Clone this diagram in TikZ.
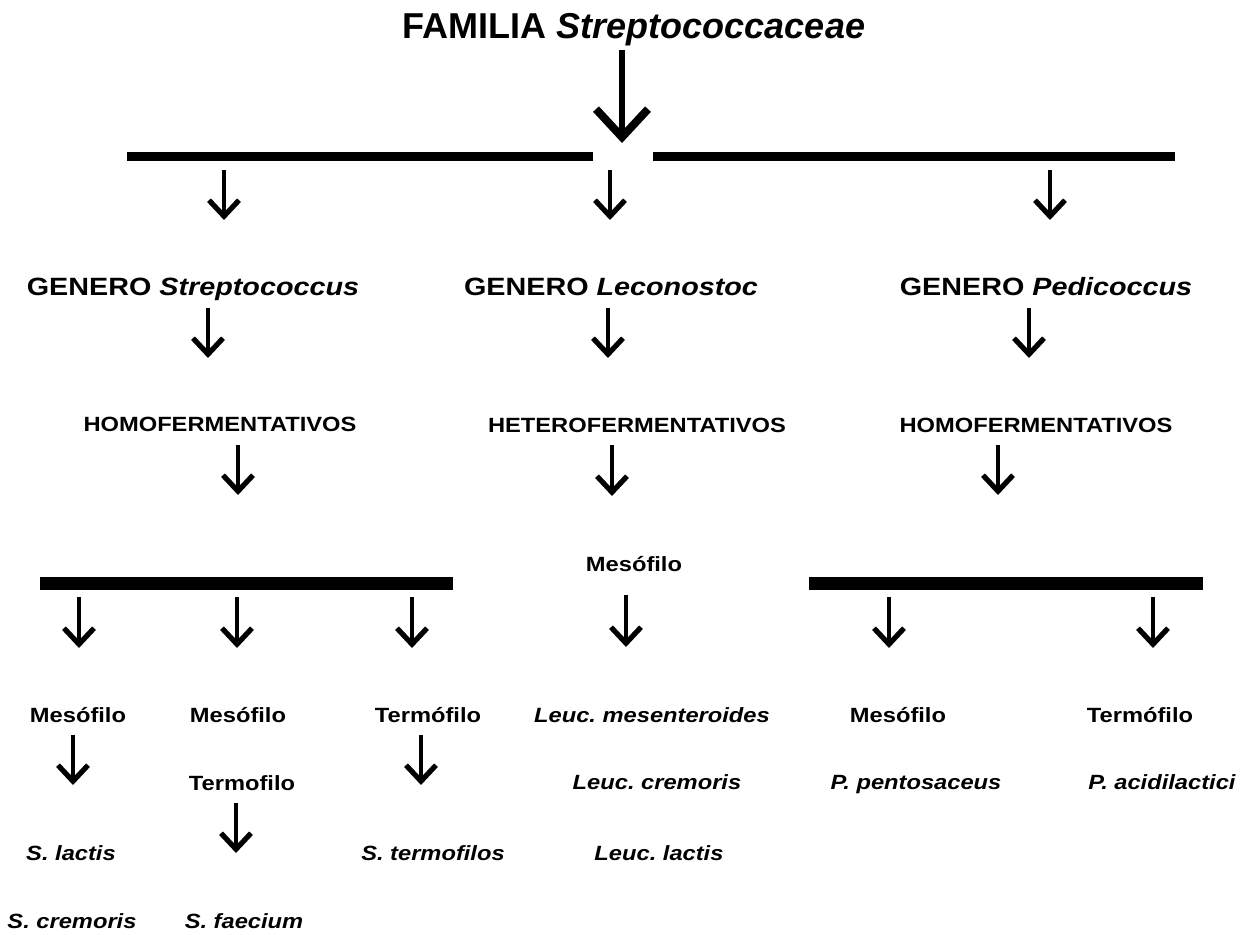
\documentclass[tikz,border=0pt]{standalone}
\usepackage{fontspec}
\setmainfont{Liberation Sans}
\newfontfamily\wf[FakeStretch=1.15]{Liberation Sans}
\usetikzlibrary{arrows.meta}
\frenchspacing
\begin{document}
\begin{tikzpicture}[x=0.5pt,y=-0.5pt,
  arr/.style={line width=1.7pt,-{Straight Barb[length=8pt,width=15pt,line width=2.6pt]}},
  bigarr/.style={line width=2.6pt,-{Straight Barb[length=14pt,width=26pt,line width=4pt]}},
  tbar/.style={line width=4.5pt},
  lbar/.style={line width=6.5pt},
  ttl/.style={anchor=base,inner sep=0pt,font=\fontsize{18}{21}\selectfont\bfseries},
  gen/.style={anchor=base,inner sep=0pt,font=\wf\fontsize{12.5}{15}\selectfont\bfseries},
  lab/.style={anchor=base,inner sep=0pt,font=\wf\fontsize{10.3}{12}\selectfont\bfseries},
  sp/.style={anchor=base,inner sep=0pt,font=\wf\fontsize{10.3}{12}\selectfont\bfseries\itshape}]
\fill[white] (0,0) rectangle (1248,935);
\useasboundingbox (0,0) rectangle (1248,935);

% texts
\node[ttl] (fam) at (634,39) {FAMILIA \textit{Streptococcaceae}};
\node[gen] (gs) at (193,296) {GENERO \textit{Streptococcus}};
\node[gen] (gl) at (611,296) {GENERO \textit{Leconostoc}};
\node[gen] (gp) at (1046,296) {GENERO \textit{Pedicoccus}};
\node[lab] (hoL) at (220,432) {HOMOFERMENTATIVOS};
\node[lab] (he) at (637,433) {HETEROFERMENTATIVOS};
\node[lab] (hoR) at (1036,433) {HOMOFERMENTATIVOS};
\node[lab] (mesC) at (634,571) {Mesófilo};
\node[lab] (m1) at (78,722) {Mesófilo};
\node[lab] (m2) at (238,722) {Mesófilo};
\node[lab] (t1) at (428,722) {Termófilo};
\node[sp] (lm) at (652,722) {Leuc. mesenteroides};
\node[lab] (m3) at (898,722) {Mesófilo};
\node[lab] (t3) at (1140,722) {Termófilo};
\node[lab] (t2) at (242,790) {Termofilo};
\node[sp] (lc) at (657,789) {Leuc. cremoris};
\node[sp] (pp) at (916,789) {P. pentosaceus};
\node[sp] (pa) at (1162,789) {P. acidilactici};
\node[sp] (sl) at (71,860) {S. lactis};
\node[sp] (st) at (433,860) {S. termofilos};
\node[sp] (ll) at (659,860) {Leuc. lactis};
\node[sp] (sc) at (72,928) {S. cremoris};
\node[sp] (sf) at (244,928) {S. faecium};

% bars
\coordinate (tb1a) at (127,157); \coordinate (tb1b) at (593,157);
\coordinate (tb2a) at (653,157); \coordinate (tb2b) at (1175,157);
\coordinate (lb1a) at (40,583);  \coordinate (lb1b) at (453,583);
\coordinate (lb2a) at (809,583); \coordinate (lb2b) at (1203,583);
\draw[tbar] (tb1a) -- (tb1b);
\draw[tbar] (tb2a) -- (tb2b);
\draw[lbar] (lb1a) -- (lb1b);
\draw[lbar] (lb2a) -- (lb2b);

% arrow end points
\coordinate (b0s) at (622,50);   \coordinate (b0e) at (622,143);
\coordinate (a1s) at (224,170);  \coordinate (a1e) at (224,220);
\coordinate (a2s) at (610,170);  \coordinate (a2e) at (610,220);
\coordinate (a3s) at (1050,170); \coordinate (a3e) at (1050,220);
\coordinate (b1s) at (208,308);  \coordinate (b1e) at (208,358);
\coordinate (b2s) at (608,308);  \coordinate (b2e) at (608,358);
\coordinate (b3s) at (1029,308); \coordinate (b3e) at (1029,358);
\coordinate (c1s) at (238,445);  \coordinate (c1e) at (238,495);
\coordinate (c2s) at (612,445);  \coordinate (c2e) at (612,496);
\coordinate (c3s) at (998,445);  \coordinate (c3e) at (998,495);
\coordinate (d1s) at (79,597);   \coordinate (d1e) at (79,648);
\coordinate (d2s) at (237,597);  \coordinate (d2e) at (237,648);
\coordinate (d3s) at (412,597);  \coordinate (d3e) at (412,648);
\coordinate (d4s) at (626,595);  \coordinate (d4e) at (626,647);
\coordinate (d5s) at (889,597);  \coordinate (d5e) at (889,648);
\coordinate (d6s) at (1153,597); \coordinate (d6e) at (1153,648);
\coordinate (e1s) at (73,735);   \coordinate (e1e) at (73,785);
\coordinate (e2s) at (421,735);  \coordinate (e2e) at (421,785);
\coordinate (f1s) at (236,803);  \coordinate (f1e) at (236,853);

\draw[bigarr] (b0s) -- (b0e);
\foreach \n in {a1,a2,a3,b1,b2,b3,c1,c2,c3,d1,d2,d3,d4,d5,d6,e1,e2,f1}
  \draw[arr] (\n s) -- (\n e);
\end{tikzpicture}
\end{document}
